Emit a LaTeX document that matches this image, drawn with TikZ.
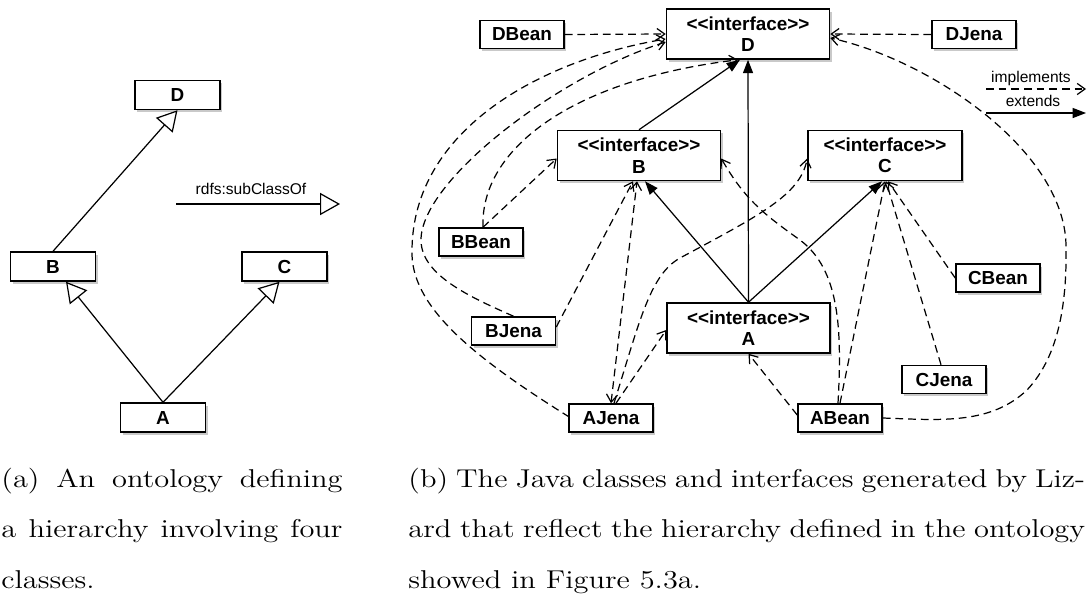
\documentclass[tikz,border=0pt]{standalone}
\usepackage{fontspec}
\newfontfamily\diafont{Liberation Sans}
\newfontfamily\capfont{lmroman12-regular.otf}[FakeStretch=1.18]
\usetikzlibrary{arrows.meta,shadows,calc}
\begin{document}
\begin{tikzpicture}[x=0.45pt,y=-0.45pt,
  box/.style={draw=black,line width=0.7pt,fill=white,inner sep=0pt,
    font=\diafont\bfseries\fontsize{8.5}{9.6}\selectfont,
    drop shadow={shadow xshift=1.1pt,shadow yshift=-1.2pt,opacity=0.3,fill=black!70}},
  smallbox/.style={box,minimum width=38.25pt,minimum height=13pt},
  classbox/.style={box,minimum width=37.8pt,minimum height=12.6pt},
  iface/.style={box,minimum width=73.35pt,minimum height=22.5pt,align=center},
  sub/.style={line width=0.55pt,-{Triangle[open,length=9pt,width=10pt,fill=white]}},
  ext/.style={line width=0.55pt,-{Triangle[length=6pt,width=4.5pt]}},
  impl/.style={line width=0.55pt,dash pattern=on 3.5pt off 2.2pt,-{Straight Barb[length=3.5pt,width=5pt]}},
  implboth/.style={impl,{Straight Barb[length=3.5pt,width=5pt]}-{Straight Barb[length=3.5pt,width=5pt]}},
  lbl/.style={font=\diafont\fontsize{7}{8}\selectfont,inner sep=0pt},
  captext/.style={anchor=base west,inner sep=0pt,font=\capfont\fontsize{11.6}{22.7}\selectfont}
]
\useasboundingbox (0,0) rectangle (1087,601);

% ---- left diagram
\node[smallbox] (lD) at (177.5,95) {D};
\node[smallbox] (lB) at (53,266.5) {B};
\node[smallbox] (lC) at (284.5,266.5) {C};
\node[smallbox] (lA) at (163,417.5) {A};
\coordinate (sl1) at (176,204);
\coordinate (sl2) at (340,204);
\node[lbl] (slabel) at (251,189) {rdfs:subClassOf};

\draw[sub] (lB.north) -- (lD.south);
\draw[sub] (lA.north) -- ($(lB.south)+(13,0)$);
\draw[sub] (lA.north) -- ($(lC.south)+(-5,0)$);
\draw[sub] (sl1) -- (sl2);

% ---- right diagram
\node[iface] (iD) at (748,34) {<{}<interface>{}>\\D};
\node[iface] (iB) at (639,155.5) {<{}<interface>{}>\\B};
\node[iface,minimum width=69.3pt] (iC) at (885,155.5) {<{}<interface>{}>\\C};
\node[iface] (iA) at (748.5,328) {<{}<interface>{}>\\A};
\node[classbox] (DBean) at (522,34.5) {DBean};
\node[classbox] (DJena) at (974,34.5) {DJena};
\node[classbox] (BBean) at (481,242) {BBean};
\node[classbox] (BJena) at (513.5,331) {BJena};
\node[classbox] (AJena) at (611,418) {AJena};
\node[classbox] (ABean) at (840,418) {ABean};
\node[classbox] (CBean) at (998,278) {CBean};
\node[classbox] (CJena) at (944,379.5) {CJena};

% legend
\node[lbl] (limpl) at (1031,78) {implements};
\node[lbl] (lext) at (1033,101) {extends};
\coordinate (li1) at (986,89);
\coordinate (li2) at (1086,89);
\coordinate (le1) at (986,113);
\coordinate (le2) at (1086,113);
\draw[impl] (li1) -- (li2);
\draw[ext] (le1) -- (le2);

% extends
\draw[ext] (iA.north) -- (iD.south);
\draw[ext] (iA.north) -- ($(iB.south)+(6,0)$);
\draw[ext] (iA.north) -- ($(iC.south)+(-3,0)$);
\draw[ext] (iB.north) -- ($(iD.south)+(-8,0)$);

% implements
\draw[impl] (DBean.east) -- (iD.west);
\draw[impl] (DJena.west) -- (iD.east);
\draw[impl] ($(AJena.west)+(1,-1)$) .. controls (470,355) and (410,305) .. (412,250)
   .. controls (413,130) and (540,60) .. ($(iD.west)+(0,5)$);
\draw[impl] (BJena.north) .. controls (470,297) and (421,275) .. (421,240)
   .. controls (421,180) and (560,75) .. ($(iD.west)+(0,8)$);
\draw[impl] ($(BBean.north)+(2,0)$) .. controls (480,150) and (570,80) .. ($(iD.south)+(-10,0)$);
\draw[impl] ($(BBean.north)+(2,0)$) -- ($(iB.west)+(0,3)$);
\draw[impl] ($(BJena.east)+(0,-4)$) -- ($(iB.south)+(-6,0)$);
\draw[implboth] (AJena.north) -- ($(iB.south)+(-2,0)$);
\draw[impl] ($(AJena.north)+(3,0)$) .. controls (640,320) and (650,275) .. (680,258)
   .. controls (760,215) and (800,195) .. ($(iC.west)+(0,3)$);
\draw[impl] ($(AJena.north)+(5,0)$) -- ($(iA.west)+(0,2)$);
\draw[impl] ($(ABean.west)+(0,-3)$) -- (iA.south);
\draw[impl] (ABean.north) -- (iC.south);
\draw[impl] ($(ABean.north)+(-2,0)$) .. controls (842,330) and (840,270) .. (800,240)
   .. controls (765,215) and (745,200) .. ($(iB.east)+(0,3)$);
\draw[impl] (ABean.east) .. controls (940,420) and (990,425) .. (1027,390)
   .. controls (1060,355) and (1067,300) .. (1066,245)
   .. controls (1064,150) and (930,60) .. ($(iD.east)+(0,4)$);
\draw[impl] (CBean.west) -- ($(iC.south)+(3,0)$);
\draw[impl] ($(CJena.north)+(-3,0)$) -- ($(iC.south)+(1,0)$);

% ---- captions
\node[captext] (capa1) at (1,487) {\makebox[153.5pt][s]{(a) An ontology defining}};
\node[captext] (capa2) at (1,537.5) {\makebox[153.5pt][s]{a hierarchy involving four}};
\node[captext] (capa3) at (1,588) {classes.};
\node[captext] (capb1) at (408,487) {\makebox[304.5pt][s]{(b) The Java classes and interfaces generated by Liz-}};
\node[captext] (capb2) at (408,537.5) {\makebox[304.5pt][s]{ard that reflect the hierarchy defined in the ontology}};
\node[captext] (capb3) at (408,588) {showed in Figure 5.3a.};
\end{tikzpicture}
\end{document}
